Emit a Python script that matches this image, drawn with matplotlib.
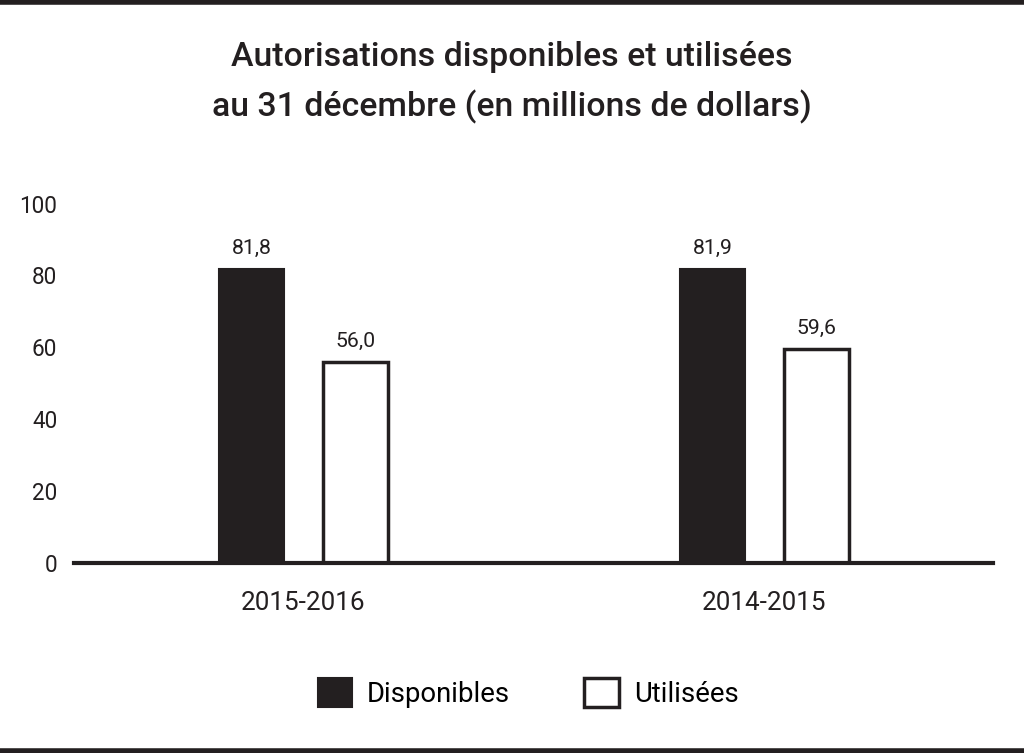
import matplotlib
matplotlib.use("Agg")
import matplotlib.pyplot as plt
from matplotlib.lines import Line2D
from matplotlib.patches import Patch
import numpy as np

plt.rcParams['font.family'] = ['Roboto', 'DejaVu Sans']

categories = ["2015-2016", "2014-2015"]
disponibles = [81.8, 81.9]
utilisees = [56.0, 59.6]
labels_disp = ["81,8", "81,9"]
labels_util = ["56,0", "59,6"]
yticks = [0, 20, 40, 60, 80, 100]
series_names = ["Disponibles", "Utilisées"]
title_lines = ["Autorisations disponibles et utilisées",
               "au 31 décembre (en millions de dollars)"]

dark = "#231f20"

fig = plt.figure(figsize=(10.24, 7.53), dpi=100)
renderer = fig.canvas.get_renderer()


def size_for(s, target_px, base=20.0, weight="normal"):
    t = fig.text(0, 0, s, fontsize=base, fontweight=weight)
    w = t.get_window_extent(renderer).width
    t.remove()
    return base * target_px / w


ax = fig.add_axes([0.0723, 0.2523, 0.8974, 0.4773])

x = np.arange(len(categories))
w = 0.141
off = 0.1128
b1 = ax.bar(x - off, disponibles, w, color=dark, edgecolor=dark, linewidth=1.5)
b2 = ax.bar(x + off, utilisees, w, color="white", edgecolor=dark, linewidth=2.5)

val_fs = size_for("81,8", 40)
for rect, lab in zip(b1, labels_disp):
    ax.text(rect.get_x() + rect.get_width() / 2, rect.get_height() + 3.0, lab,
            ha="center", va="bottom", fontsize=val_fs, color=dark)
for rect, lab in zip(b2, labels_util):
    ax.text(rect.get_x() + rect.get_width() / 2, rect.get_height() + 3.0, lab,
            ha="center", va="bottom", fontsize=val_fs, color=dark)

ax.set_xlim(-0.498, 1.496)
ax.set_ylim(0, 100)
ax.set_yticks(yticks)
ax.set_yticklabels([str(v) for v in yticks], fontsize=size_for("100", 38), color=dark)
ax.set_xticks(x)
ax.set_xticklabels(categories, fontsize=size_for("2015-2016", 124), color=dark)
ax.tick_params(axis="both", length=0)
ax.tick_params(axis="y", pad=12)
ax.tick_params(axis="x", pad=20)
for s in ["top", "right", "left"]:
    ax.spines[s].set_visible(False)
ax.spines["bottom"].set_linewidth(3)
ax.spines["bottom"].set_color(dark)

tfs = size_for(title_lines[1], 600, weight="medium")
fig.text(0.5, 1 - 57 / 753, title_lines[0], ha="center", va="center", fontsize=tfs,
         fontweight="medium", color=dark)
fig.text(0.5, 1 - 107 / 753, title_lines[1], ha="center", va="center", fontsize=tfs,
         fontweight="medium", color=dark)

handles = [Patch(facecolor=dark, edgecolor=dark, linewidth=1.5),
           Patch(facecolor="white", edgecolor=dark, linewidth=2.5)]
lfs = size_for("Disponibles", 142)
fig.legend(handles, series_names, loc="center", bbox_to_anchor=(528 / 1024, 1 - 693 / 753),
           ncol=2, frameon=False, fontsize=lfs, handlelength=1.25, handleheight=1.25,
           columnspacing=2.7, handletextpad=0.55)

fig.add_artist(Line2D([0, 0.998], [0.998, 0.998], color=dark, linewidth=4,
                      transform=fig.transFigure))
fig.add_artist(Line2D([0, 0.998], [0.003, 0.003], color=dark, linewidth=4,
                      transform=fig.transFigure))

fig.savefig("out.png", dpi=100)
